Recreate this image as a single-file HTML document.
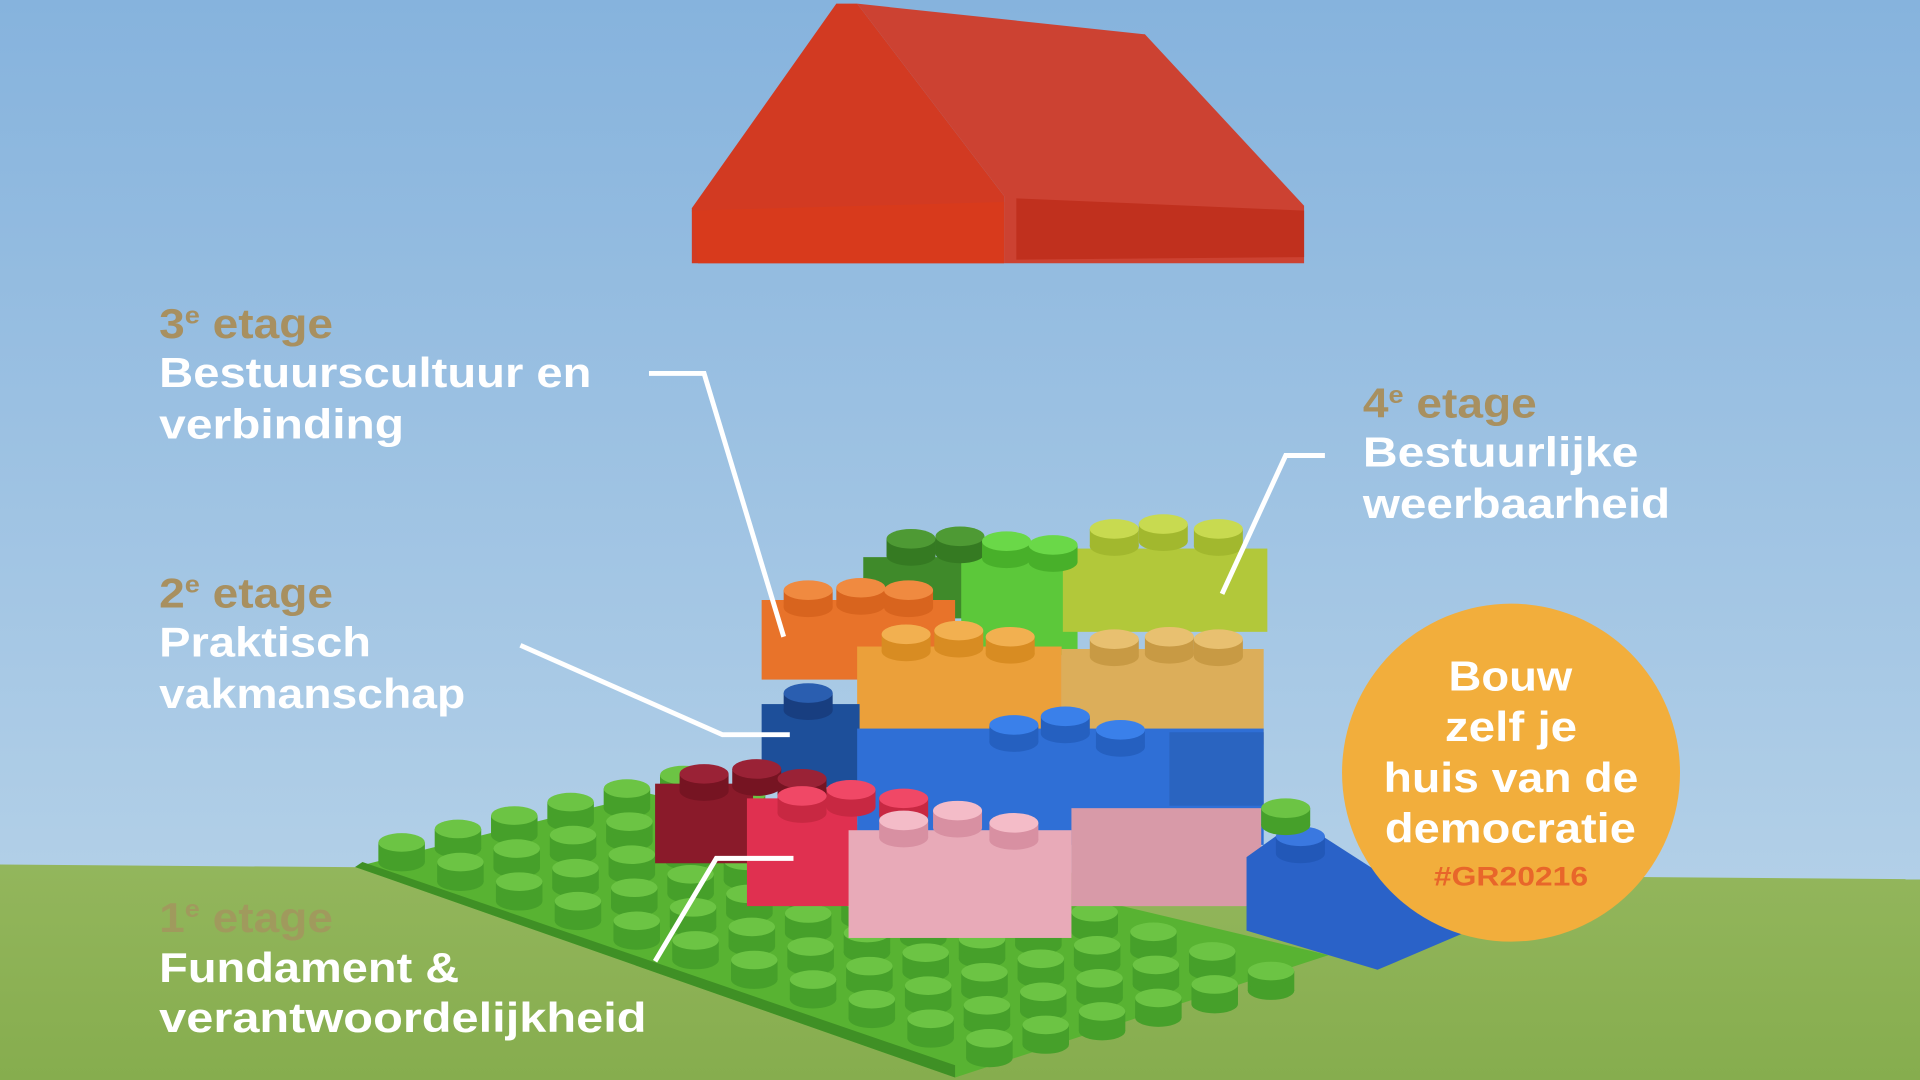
<!DOCTYPE html>
<html><head><meta charset="utf-8"><style>
html,body{margin:0;padding:0;width:1920px;height:1080px;overflow:hidden}
svg{display:block}
text{font-family:"Liberation Sans",sans-serif;font-weight:bold}
</style></head><body>
<svg id="s" width="1920" height="1080" viewBox="0 0 1568 882" xmlns="http://www.w3.org/2000/svg">
<defs>
<linearGradient id="sky" x1="0" y1="0" x2="0" y2="1">
<stop offset="0" stop-color="#86b3dd"/><stop offset="1" stop-color="#bcd6ea"/></linearGradient>
<linearGradient id="ground" x1="0" y1="0" x2="0" y2="1">
<stop offset="0" stop-color="#93b65c"/><stop offset="1" stop-color="#86ad4e"/></linearGradient>
</defs>
<rect width="1568" height="882" fill="url(#sky)"/>
<polygon points="0,706 1568,718 1568,882 0,882" fill="url(#ground)"/>
<!-- roof -->
<polygon points="565,170 683,3 700,3 820,160 820,215 565,215" fill="#d23a22"/>
<polygon points="700,3 935,28 1065,168 1065,215 820,215 820,160" fill="#cc4232"/>
<polygon points="830,162 1065,172 1065,210 830,212" fill="#c0301e"/>
<polygon points="565,172 820,165 820,215 570,215" fill="#d83a1c"/>
<!-- base plate -->
<polygon points="290,708 530,648 1085,780 780,880" fill="#58b332"/>
<polygon points="290,708 780,880 780,870 296,704" fill="#3f9025"/>
<g id="studs"></g>
<!-- bricks -->
<rect x="705" y="455" width="165" height="50" fill="#3f8a2a"/>
<rect x="785" y="450" width="95" height="85" fill="#5cc83a"/>
<rect x="868" y="448" width="167" height="68" fill="#b2c83a"/>
<rect x="622" y="490" width="158" height="65" fill="#e8732a"/>
<rect x="700" y="528" width="167" height="78" fill="#eba03a"/>
<rect x="867" y="530" width="165" height="78" fill="#dcae5a"/>
<rect x="622" y="575" width="80" height="68" fill="#1d4f9a"/>
<rect x="700" y="595" width="332" height="95" fill="#2f6fd6"/>
<rect x="955" y="598" width="77" height="60" fill="#2a64c0"/>
<rect x="535" y="640" width="80" height="65" fill="#8a1a2a"/>
<rect x="610" y="652" width="90" height="88" fill="#e03050"/>
<rect x="875" y="660" width="155" height="80" fill="#d89aa8"/>
<rect x="693" y="678" width="182" height="88" fill="#e8aab8"/>
<polygon points="1018,700 1060,670 1200,760 1125,792 1018,760" fill="#2a62c8"/>
<g id="bstuds"></g>
<!-- lines -->
<g stroke="#fff" stroke-width="4" fill="none">
<polyline points="530,305 575,305 640,520"/>
<polyline points="425,527 590,600 645,600"/>
<polyline points="1082,372 1050,372 998,485"/>
<polyline points="648,701 585,701 535,785"/>
</g>
<!-- labels -->
<g font-size="34" fill="#fff" lengthAdjust="spacingAndGlyphs">
<text x="130" y="276" fill="#a89060" textLength="142" lengthAdjust="spacingAndGlyphs">3<tspan font-size="20" dy="-12">e</tspan><tspan dy="12"> etage</tspan></text>
<text x="130" y="316" textLength="353" lengthAdjust="spacingAndGlyphs">Bestuurscultuur en</text>
<text x="130" y="358" textLength="200" lengthAdjust="spacingAndGlyphs">verbinding</text>
<text x="130" y="496" fill="#a89060" textLength="142" lengthAdjust="spacingAndGlyphs">2<tspan font-size="20" dy="-12">e</tspan><tspan dy="12"> etage</tspan></text>
<text x="130" y="536" textLength="173" lengthAdjust="spacingAndGlyphs">Praktisch</text>
<text x="130" y="578" textLength="250" lengthAdjust="spacingAndGlyphs">vakmanschap</text>
<text x="130" y="761" fill="#a89060" opacity="0.7" textLength="142" lengthAdjust="spacingAndGlyphs">1<tspan font-size="20" dy="-12">e</tspan><tspan dy="12"> etage</tspan></text>
<text x="130" y="802" textLength="245" lengthAdjust="spacingAndGlyphs">Fundament &amp;</text>
<text x="130" y="843" textLength="398" lengthAdjust="spacingAndGlyphs">verantwoordelijkheid</text>
<text x="1113" y="341" fill="#a89060" textLength="142" lengthAdjust="spacingAndGlyphs">4<tspan font-size="20" dy="-12">e</tspan><tspan dy="12"> etage</tspan></text>
<text x="1113" y="381" textLength="225" lengthAdjust="spacingAndGlyphs">Bestuurlijke</text>
<text x="1113" y="423" textLength="251" lengthAdjust="spacingAndGlyphs">weerbaarheid</text>
</g>
<circle cx="1234" cy="631" r="138" fill="#f2ae3c"/>
<g font-size="34" fill="#fff">
<text x="1183" y="564" textLength="101" lengthAdjust="spacingAndGlyphs">Bouw</text>
<text x="1180" y="605" textLength="108" lengthAdjust="spacingAndGlyphs">zelf je</text>
<text x="1130" y="647" textLength="208" lengthAdjust="spacingAndGlyphs">huis van de</text>
<text x="1131" y="688" textLength="205" lengthAdjust="spacingAndGlyphs">democratie</text>
<text x="1171" y="723" font-size="22" fill="#e8662a" textLength="126" lengthAdjust="spacingAndGlyphs">#GR20216</text>
</g>
</svg>
<script>
var ns="http://www.w3.org/2000/svg";
function stud(g,x,y,rx,top,side,h){
 var r=document.createElementNS(ns,"rect");r.setAttribute("x",x-rx);r.setAttribute("y",y);r.setAttribute("width",rx*2);r.setAttribute("height",h);r.setAttribute("fill",side);g.appendChild(r);
 var e=document.createElementNS(ns,"ellipse");e.setAttribute("cx",x);e.setAttribute("cy",y+h);e.setAttribute("rx",rx);e.setAttribute("ry",rx*0.4);e.setAttribute("fill",side);g.appendChild(e);
 var t=document.createElementNS(ns,"ellipse");t.setAttribute("cx",x);t.setAttribute("cy",y);t.setAttribute("rx",rx);t.setAttribute("ry",rx*0.4);t.setAttribute("fill",top);g.appendChild(t);
}
var g=document.getElementById("studs");
for(var i=0;i<11;i++)for(var j=0;j<6;j++){
 var x=328+i*48+j*46,y=688+i*16-j*11;
 stud(g,x,y,19,"#6cc444","#46a02a",16);
}
var b=document.getElementById("bstuds");
var L=[[660,482,"#f08a40","#d8641e"],[703,480,"#f08a40","#d8641e"],[742,482,"#f08a40","#d8641e"],
[744,440,"#4e9a34","#357a22"],[784,438,"#4e9a34","#357a22"],[822,442,"#6ad848","#48b02a"],[860,445,"#6ad848","#48b02a"],
[910,432,"#c8da50","#a2b82e"],[950,428,"#c8da50","#a2b82e"],[995,432,"#c8da50","#a2b82e"],
[740,518,"#f2b050","#d88c22"],[783,515,"#f2b050","#d88c22"],[825,520,"#f2b050","#d88c22"],
[910,522,"#e8c070","#c89a44"],[955,520,"#e8c070","#c89a44"],[995,522,"#e8c070","#c89a44"],
[660,566,"#2a5eb0","#183e80"],[828,592,"#3a80ea","#2560c0"],[870,585,"#3a80ea","#2560c0"],[915,596,"#3a80ea","#2560c0"],
[575,632,"#9a2236","#761422"],[618,628,"#9a2236","#761422"],[655,636,"#9a2236","#761422"],
[655,650,"#f04866","#c82842"],[695,645,"#f04866","#c82842"],[738,652,"#f04866","#c82842"],
[738,670,"#f4bcc8","#d890a2"],[782,662,"#f4bcc8","#d890a2"],[828,672,"#f4bcc8","#d890a2"],
[1062,683,"#3a78e0","#2258b8"],[1050,660,"#6cc444","#46a02a"]];
L.forEach(function(s){stud(b,s[0],s[1],20,s[2],s[3],14);});
</script>
</body></html>
